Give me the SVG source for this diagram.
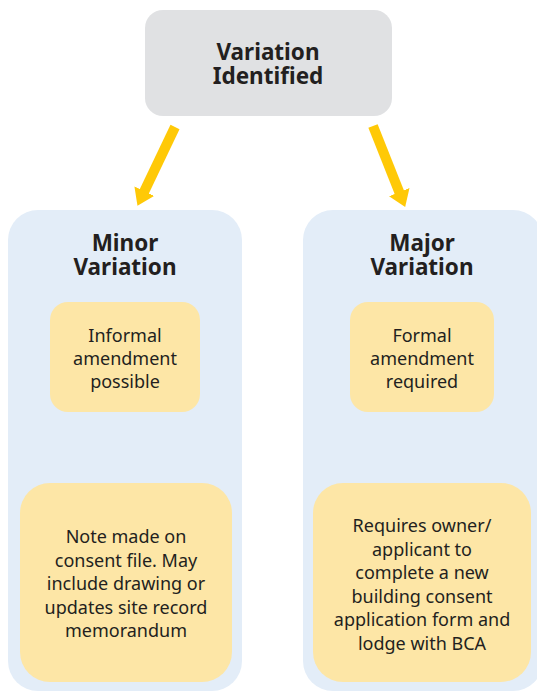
<svg xmlns="http://www.w3.org/2000/svg" width="537" height="691" viewBox="0 0 537 691">
<style>
.t{font-family:"Noto Sans","DejaVu Sans",sans-serif;fill:#231f20;text-anchor:middle}
.b{font-weight:bold;font-size:22.5px}
.r{font-size:18px}
.top{fill:#e0e1e3}
.cont{fill:#e3edf8}
.inner{fill:#fde6a6}
.arr{stroke:#ffc907;stroke-width:10;fill:none}
</style>
<defs>
<marker id="ah" markerUnits="userSpaceOnUse" markerWidth="16" markerHeight="22" viewBox="0 0 16 22" refX="2" refY="11" orient="auto">
<path d="M0,0 L16,11 L0,22 z" fill="#ffc907"/>
</marker>
</defs>
<rect width="537" height="691" fill="#ffffff"/>
<g id="variation-identified">
<rect class="top" x="145" y="10" width="247" height="106" rx="18"/>
<text class="t b" x="268" y="59.5">Variation</text>
<text class="t b" x="268" y="83.5">Identified</text>
</g>
<g id="minor-variation">
<rect class="cont" x="8" y="210" width="234" height="481" rx="30"/>
<text class="t b" x="125" y="251">Minor</text>
<text class="t b" x="125" y="275">Variation</text>
</g>
<g id="major-variation">
<rect class="cont" x="303" y="210" width="240" height="481" rx="30"/>
<text class="t b" x="422" y="251">Major</text>
<text class="t b" x="422" y="275">Variation</text>
</g>
<g id="informal-amendment">
<rect class="inner" x="50" y="302" width="150" height="110" rx="18"/>
<text class="t r" x="125" y="342">Informal</text>
<text class="t r" x="125" y="365">amendment</text>
<text class="t r" x="125" y="388">possible</text>
</g>
<g id="formal-amendment">
<rect class="inner" x="350" y="302" width="144" height="110" rx="18"/>
<text class="t r" x="422" y="342">Formal</text>
<text class="t r" x="422" y="365">amendment</text>
<text class="t r" x="422" y="388">required</text>
</g>
<g id="note-made">
<rect class="inner" x="20" y="483" width="212" height="199" rx="30"/>
<text class="t r" x="126" y="543">Note made on</text>
<text class="t r" x="126" y="566.5">consent file. May</text>
<text class="t r" x="126" y="590">include drawing or</text>
<text class="t r" x="126" y="613.5">updates site record</text>
<text class="t r" x="126" y="637">memorandum</text>
</g>
<g id="requires-owner">
<rect class="inner" x="313" y="483" width="218" height="199" rx="30"/>
<text class="t r" x="422" y="532">Requires owner/</text>
<text class="t r" x="422" y="555.5">applicant to</text>
<text class="t r" x="422" y="579">complete a new</text>
<text class="t r" x="422" y="602.5">building consent</text>
<text class="t r" x="422" y="626">application form and</text>
<text class="t r" x="422" y="649.5">lodge with BCA</text>
</g>
<g id="connectors">
<line class="arr" x1="175" y1="127" x2="143.5" y2="193" marker-end="url(#ah)"/>
<line class="arr" x1="373" y1="126" x2="400" y2="194" marker-end="url(#ah)"/>
</g>
</svg>
